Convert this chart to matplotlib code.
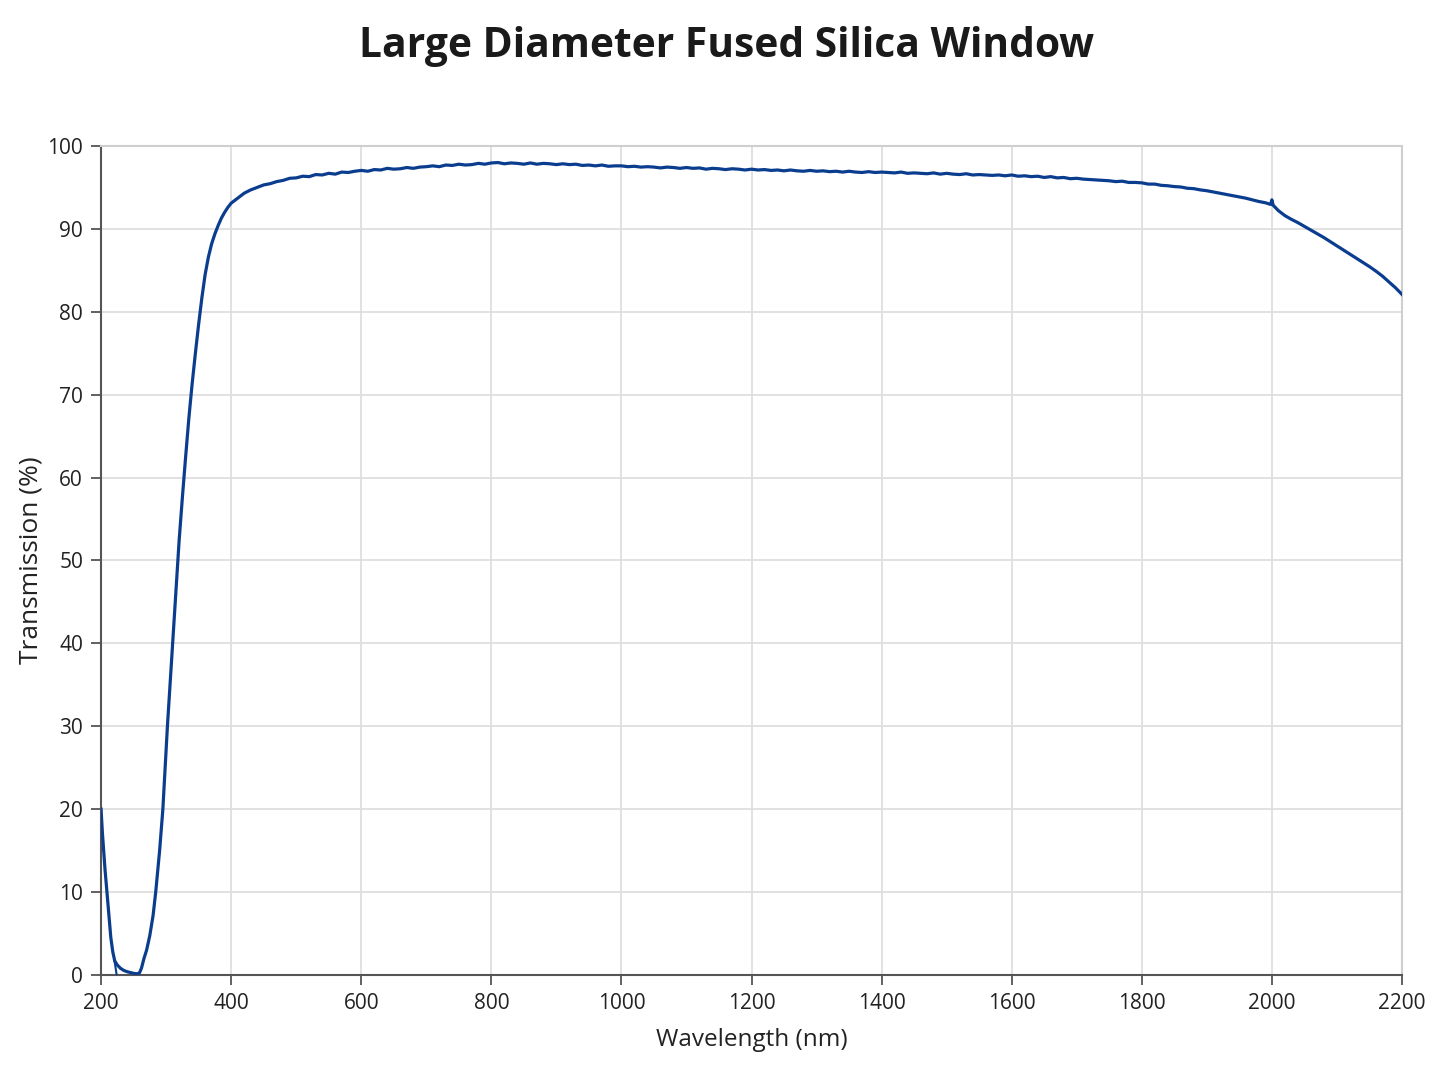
import matplotlib
matplotlib.use("Agg")
import matplotlib.pyplot as plt
import numpy as np

plt.rcParams['font.family'] = ['Open Sans', 'DejaVu Sans']

# ---- data ----
# UV absorption edge
wl_uv = [200, 202, 204, 206, 209, 212, 215, 218, 221, 225, 230, 235, 240, 245,
         250, 255, 259, 262, 266, 270, 275, 280, 284, 290, 295, 302, 310, 315,
         320, 325, 330, 335, 340, 345, 350, 355, 360, 365, 370, 375, 380, 385,
         390, 395]
t_uv = [20.0, 17.2, 15.0, 12.8, 10.0, 7.3, 4.5, 2.8, 1.7, 1.2, 0.8, 0.55, 0.4, 0.3,
        0.2, 0.15, 0.25, 0.8, 2.0, 3.0, 4.8, 7.2, 10.0, 15.0, 20.0, 30.0, 40.0, 46.3,
        52.4, 57.6, 62.5, 67.2, 71.3, 75.0, 78.5, 81.7, 84.5, 86.6, 88.2, 89.4, 90.4, 91.3,
        92.0, 92.6]

# branch dropping to zero near 222 nm
wl_branch = [220.5, 224.0]
t_branch = [1.8, 0.0]

# visible / NIR plateau (10 nm steps, 400-1990 nm)
wl_vis = list(range(400, 2000, 10))
t_vis = [
    93.1, 93.7, 94.3, 94.7, 95.0, 95.3, 95.45, 95.7, 95.85, 96.1,
    96.15, 96.35, 96.3, 96.55, 96.5, 96.7, 96.6, 96.85, 96.8, 96.95,
    97.05, 96.95, 97.15, 97.1, 97.3, 97.2, 97.25, 97.4, 97.3, 97.45,
    97.5, 97.6, 97.5, 97.7, 97.65, 97.8, 97.7, 97.75, 97.9, 97.8,
    97.95, 98.0, 97.85, 97.95, 97.9, 97.8, 97.95, 97.8, 97.9, 97.85,
    97.75, 97.85, 97.75, 97.8, 97.65, 97.7, 97.6, 97.7, 97.55, 97.6,
    97.6, 97.5, 97.55, 97.45, 97.5, 97.45, 97.35, 97.45, 97.4, 97.3,
    97.4, 97.3, 97.35, 97.2, 97.3, 97.25, 97.15, 97.25, 97.2, 97.1,
    97.2, 97.1, 97.15, 97.05, 97.1, 97.0, 97.1, 97.0, 96.95, 97.05,
    96.95, 97.0, 96.9, 96.95, 96.85, 96.95, 96.85, 96.8, 96.9, 96.8,
    96.85, 96.8, 96.75, 96.85, 96.7, 96.75, 96.7, 96.65, 96.75, 96.6,
    96.7, 96.6, 96.55, 96.65, 96.5, 96.55, 96.5, 96.45, 96.5, 96.4,
    96.5, 96.35, 96.4, 96.3, 96.35, 96.2, 96.3, 96.15, 96.2, 96.05,
    96.1, 96.0, 95.95, 95.9, 95.85, 95.8, 95.7, 95.75, 95.6, 95.6,
    95.55, 95.4, 95.4, 95.25, 95.2, 95.1, 95.05, 94.9, 94.85, 94.7,
    94.6, 94.45, 94.3, 94.15, 94.0, 93.85, 93.7, 93.5, 93.3, 93.15,
]

# detector change at 2000 nm and IR roll-off
wl_ir = [1998, 2000, 2002, 2010, 2020, 2030, 2040, 2050, 2060, 2070, 2080,
         2090, 2100, 2110, 2120, 2130, 2140, 2150, 2160, 2170, 2180, 2190, 2200]
t_ir = [92.95, 93.5, 92.85, 92.2, 91.6, 91.15, 90.75, 90.3, 89.85, 89.4, 88.95,
        88.45, 87.95, 87.45, 86.95, 86.45, 85.95, 85.45, 84.9, 84.3, 83.6, 82.9, 82.1]

x_ticks = [200, 400, 600, 800, 1000, 1200, 1400, 1600, 1800, 2000, 2200]
y_ticks = [0, 10, 20, 30, 40, 50, 60, 70, 80, 90, 100]

title = "Large Diameter Fused Silica Window"
xlabel = "Wavelength (nm)"
ylabel = "Transmission (%)"

# ---- plot ----
wl = wl_uv + wl_vis + wl_ir
tr = t_uv + t_vis + t_ir

line_color = "#0b3d8f"

fig = plt.figure(figsize=(14.48, 10.86), dpi=100)
fig.patch.set_facecolor("white")
ax = fig.add_axes([0.0698, 0.1022, 0.8984, 0.7634])

ax.plot(wl, tr, color=line_color, lw=2.3, solid_joinstyle="round", zorder=3)
ax.plot(wl_branch, t_branch, color=line_color, lw=1.5, zorder=3)

ax.set_xlim(200, 2200)
ax.set_ylim(0, 100)
ax.set_xticks(x_ticks)
ax.set_yticks(y_ticks)
ax.grid(True, color="#dedede", lw=1.3, zorder=0)
ax.set_axisbelow(True)

for side in ("top", "right"):
    ax.spines[side].set_color("#cfcfcf")
    ax.spines[side].set_linewidth(1.5)
for side in ("left", "bottom"):
    ax.spines[side].set_color("#555555")
    ax.spines[side].set_linewidth(1.5)

ax.tick_params(axis="both", direction="out", length=7, width=1.3,
               color="#555555", labelsize=15, labelcolor="#222222", pad=6)

ax.set_xlabel(xlabel, fontsize=17.5, color="#222222", labelpad=10)
ax.set_ylabel(ylabel, fontsize=19, color="#222222", labelpad=3)

fig.text(0.502, 0.957, title, ha="center", va="center",
         fontsize=29.3, fontweight="bold", color="#1a1a1a")

fig.savefig("out.png", dpi=100, facecolor="white")
